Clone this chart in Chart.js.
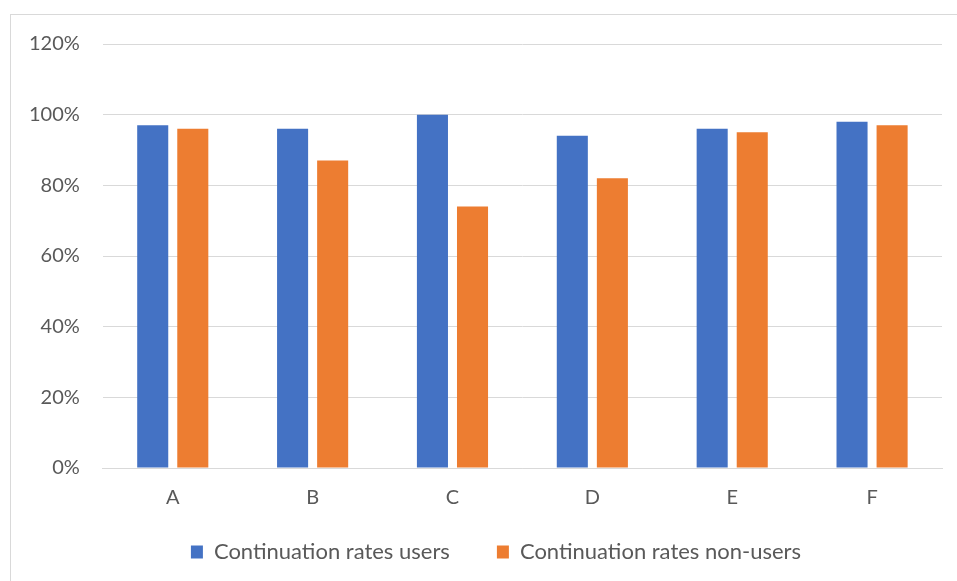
<!DOCTYPE html>
<html>
<head>
<meta charset="utf-8">
<script src="https://cdn.jsdelivr.net/npm/chart.js@4"></script>
<style>
  html, body { margin: 0; padding: 0; background: #fff; }
  #frame { position: absolute; left: 10px; top: 14px; width: 960px; height: 580px; border: 1px solid #d9d9d9; }
  #wrap { position: absolute; left: 0; top: 0; width: 957px; height: 581px; }
</style>
</head>
<body>
<div id="frame"></div>
<div id="wrap"><canvas id="rateChart"></canvas></div>
<script>
const categories = ["A", "B", "C", "D", "E", "F"];
const usersRates = [97, 96, 100, 94, 96, 98];
const nonUsersRates = [96, 87, 74, 82, 95, 97];
const seriesNames = ["Continuation rates users", "Continuation rates non-users"];

const FONT = "Lato, 'Open Sans', sans-serif";
const TEXT_COLOR = "#595959";
const GRID_COLOR = "#d9d9d9";

// legend in the original sits a bit right of the plot centre
const legendShift = {
    id: 'legendShift',
    afterLayout(chart) {
        chart.legend.left += 22;
        chart.legend.right += 22;
    }
};

function initializeChart() {
    const ctx = document.getElementById('rateChart').getContext('2d');
    new Chart(ctx, {
        type: 'bar',
        data: {
            labels: categories,
            datasets: [{
                label: seriesNames[0],
                backgroundColor: '#4472C4',
                data: usersRates
            }, {
                label: seriesNames[1],
                backgroundColor: '#ED7D31',
                data: nonUsersRates
            }]
        },
        options: {
            responsive: true,
            maintainAspectRatio: false,
            animation: false,
            categoryPercentage: 0.573,
            barPercentage: 0.775,
            layout: { padding: { left: 6, right: 15, top: 44, bottom: 8 } },
            plugins: {
                tooltip: { enabled: false },
                legend: {
                    position: 'bottom',
                    labels: {
                        boxWidth: 12,
                        boxHeight: 13,
                        padding: 47,
                        color: TEXT_COLOR,
                        font: { family: FONT, size: 22 }
                    }
                }
            },
            scales: {
                x: {
                    grid: { display: false, drawTicks: false },
                    border: { display: true, color: GRID_COLOR, width: 1 },
                    // mirrored with negative padding so the labels are not clipped to the
                    // (shortened) scale box; the legend's big item gap eats the space below
                    ticks: { color: TEXT_COLOR, mirror: true, padding: -42, font: { family: FONT, size: 20 } },
                    afterFit: scale => { scale.height = 26; }
                },
                y: {
                    min: 0,
                    max: 120,
                    ticks: {
                        stepSize: 20,
                        padding: 23,
                        color: TEXT_COLOR,
                        font: { family: FONT, size: 20 },
                        callback: v => v + '%'
                    },
                    grid: { color: GRID_COLOR, lineWidth: 1, drawTicks: false },
                    border: { display: false }
                }
            }
        },
        plugins: [legendShift]
    });
}

initializeChart();
</script>
</body>
</html>
